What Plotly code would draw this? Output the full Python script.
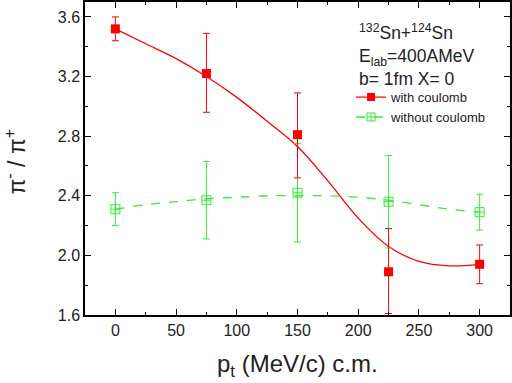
import plotly.graph_objects as go

# measured points
pt = [0, 75, 150, 225, 300]
with_c = [3.52, 3.22, 2.81, 1.89, 1.94]
with_c_up = [0.08, 0.27, 0.28, 0.29, 0.13]
with_c_dn = [0.08, 0.26, 0.29, 0.28, 0.13]
without_c = [2.31, 2.37, 2.42, 2.36, 2.29]
without_c_up = [0.11, 0.26, 0.33, 0.31, 0.12]
without_c_dn = [0.11, 0.26, 0.33, 0.31, 0.12]

# fitted curves
fit_x = [0, 25, 50, 75, 100, 125, 150, 175, 200, 225, 250, 275, 300]
fit_with = [3.52, 3.42, 3.32, 3.20, 3.06, 2.90, 2.73, 2.50, 2.25, 2.06, 1.96, 1.93, 1.94]
fit_without = [2.31, 2.34, 2.36, 2.38, 2.39, 2.40, 2.40, 2.40, 2.39, 2.37, 2.34, 2.31, 2.29]

RED = '#ff0000'
GREEN = '#33ee33'
FONT = 'Liberation Sans, Arial'

fig = go.Figure()

fig.add_trace(go.Scatter(x=fit_x, y=fit_with, mode='lines', line=dict(color=RED, width=1.3, shape='spline'),
                         showlegend=False, hoverinfo='skip'))
fig.add_trace(go.Scatter(x=fit_x, y=fit_without, mode='lines',
                         line=dict(color=GREEN, width=1.3, dash='dash', shape='spline'),
                         showlegend=False, hoverinfo='skip'))

fig.add_trace(go.Scatter(
    x=pt, y=without_c, mode='markers', showlegend=False,
    marker=dict(symbol='square-cross-open', size=9, color=GREEN, line=dict(width=1, color=GREEN)),
    error_y=dict(type='data', array=without_c_up, arrayminus=without_c_dn, color=GREEN, thickness=1, width=3.5),
))
fig.add_trace(go.Scatter(
    x=pt, y=with_c, mode='markers', showlegend=False,
    marker=dict(symbol='square', size=9, color=RED),
    error_y=dict(type='data', array=with_c_up, arrayminus=with_c_dn, color=RED, thickness=1, width=3.5),
))

# legend entries
fig.add_trace(go.Scatter(x=[None], y=[None], mode='lines+markers', name='with coulomb',
                         line=dict(color=RED, width=1.3), marker=dict(symbol='square', size=8, color=RED)))
fig.add_trace(go.Scatter(x=[None], y=[None], mode='lines+markers', name='without coulomb',
                         line=dict(color=GREEN, width=1.3, dash='dash'),
                         marker=dict(symbol='square-cross-open', size=8, color=GREEN)))

fig.add_annotation(text='<sup>132</sup>Sn+<sup>124</sup>Sn<br>E<sub>lab</sub>=400AMeV<br>b= 1fm X= 0',
                   xref='paper', yref='paper', x=0.64, y=0.945, xanchor='left', yanchor='top', align='left',
                   showarrow=False, font=dict(size=17.5, family=FONT, color='#222'))

# axis titles
fig.add_annotation(text='p<sub>t</sub> (MeV/c) c.m.', xref='paper', yref='paper', x=0.5, y=-0.105,
                   xanchor='center', yanchor='top', showarrow=False, font=dict(size=24, family=FONT, color='#222'))
fig.add_annotation(text='π<sup>-</sup> / π<sup>+</sup>', xref='paper', yref='paper', x=-0.165, y=0.49,
                   xanchor='center', yanchor='middle', textangle=-90, showarrow=False,
                   font=dict(size=23, family=FONT, color='#222'))

fig.update_layout(
    width=512, height=383,
    margin=dict(l=85, r=2, t=2, b=68),
    plot_bgcolor='white', paper_bgcolor='white',
    font=dict(family=FONT, color='black'),
    legend=dict(x=0.626, y=0.744, xanchor='left', yanchor='top', bgcolor='rgba(0,0,0,0)',
                font=dict(size=13, family=FONT, color='#222'), tracegroupgap=0, itemwidth=30),
    xaxis=dict(
        range=[-25, 325], tickvals=[0, 50, 100, 150, 200, 250, 300],
        ticks='inside', ticklen=6, tickwidth=1.3, tickcolor='black',
        minor=dict(ticks='inside', dtick=25, tick0=0, ticklen=3, tickwidth=1.3, tickcolor='black'),
        showline=True, linecolor='black', linewidth=1.5, mirror='ticks',
        showgrid=False, zeroline=False, automargin=False,
        tickfont=dict(size=16, family=FONT, color='#222'),
    ),
    yaxis=dict(
        range=[1.6, 3.7], tickvals=[1.6, 2.0, 2.4, 2.8, 3.2, 3.6], tickformat='.1f',
        ticks='inside', ticklen=6, tickwidth=1.3, tickcolor='black',
        minor=dict(ticks='inside', dtick=0.2, tick0=1.6, ticklen=3, tickwidth=1.3, tickcolor='black'),
        showline=True, linecolor='black', linewidth=1.5, mirror='ticks',
        showgrid=False, zeroline=False, automargin=False,
        tickfont=dict(size=16, family=FONT, color='#222'),
    ),
)

# page body has a default 8px margin; drop it so the figure fills the window
fig.write_html('out.html', config={'displayModeBar': False},
               post_script="document.body.style.margin='0';")
